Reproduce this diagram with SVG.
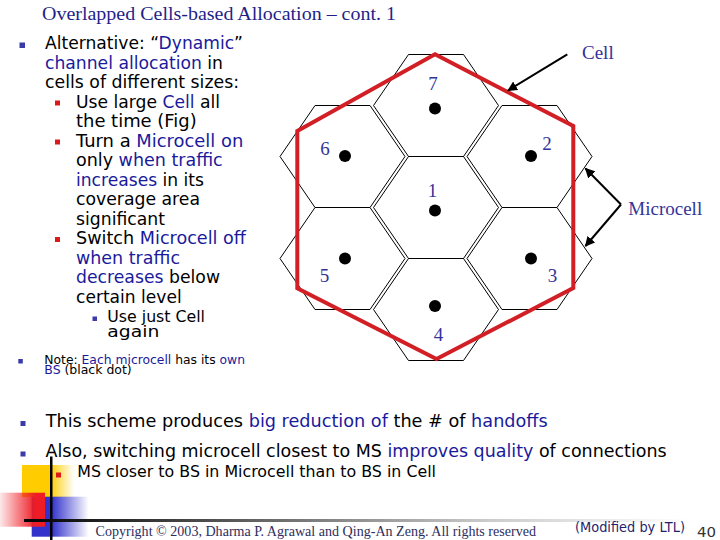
<svg xmlns="http://www.w3.org/2000/svg" width="720" height="540" viewBox="0 0 720 540">
<defs>
<style>
.t{font-family:"DejaVu Sans","Liberation Sans",sans-serif;font-size:17.5px;fill:#000}
.s16{font-size:16px}
.s13{font-size:12px}
.b{fill:#1a1a9c}
.hex{fill:none;stroke:#000;stroke-width:1}
.lab{font-family:"Liberation Serif","Times New Roman",serif;font-size:19px;fill:#333399}
.bb{fill:#3a3aa8}
.rb{fill:#dd1a1a}
.arr{stroke:#000;stroke-width:2;fill:none}
</style>
<marker id="ah" viewBox="0 0 10 10" refX="9" refY="5" markerWidth="5" markerHeight="5" orient="auto" markerUnits="strokeWidth">
<path d="M0,0 L10,5 L0,10 z" fill="#000"/>
</marker>
<linearGradient id="gy" x1="0" y1="0" x2="1" y2="0">
<stop offset="0" stop-color="#ffcc00"/><stop offset="0.54" stop-color="#ffcc00"/><stop offset="1" stop-color="#ffcc00" stop-opacity="0"/>
</linearGradient>
<linearGradient id="gb" x1="0" y1="0" x2="1" y2="0">
<stop offset="0" stop-color="#3333cc"/><stop offset="0.35" stop-color="#3333cc"/><stop offset="1" stop-color="#3333cc" stop-opacity="0"/>
</linearGradient>
<linearGradient id="gr" x1="0" y1="0" x2="1" y2="0">
<stop offset="0" stop-color="#ee1c24" stop-opacity="0.1"/><stop offset="0.8" stop-color="#ee1c24"/><stop offset="1" stop-color="#ee1c24"/>
</linearGradient>
<linearGradient id="gl" x1="0" y1="0" x2="1" y2="0">
<stop offset="0" stop-color="#000"/><stop offset="0.3" stop-color="#555"/><stop offset="0.7" stop-color="#ccc"/><stop offset="1" stop-color="#fff"/>
</linearGradient>
</defs>
<rect width="720" height="540" fill="#fff"/>

<text x="42" y="19.5" font-family="Liberation Serif, Times New Roman, serif" font-size="18" fill="#1f1f8a" textLength="354" lengthAdjust="spacingAndGlyphs">Overlapped Cells-based Allocation – cont. 1</text>

<g id="left-text">
<rect class="bb" x="19.5" y="42.5" width="5.5" height="5.5"/>
<text class="t" x="45" y="49" textLength="198" lengthAdjust="spacingAndGlyphs">Alternative: “<tspan class="b">Dynamic</tspan>”</text>
<text class="t" x="45" y="68.5" textLength="178" lengthAdjust="spacingAndGlyphs"><tspan class="b">channel allocation</tspan> in</text>
<text class="t" x="45" y="88" textLength="194" lengthAdjust="spacingAndGlyphs">cells of different sizes:</text>
<rect class="rb" x="55" y="100.5" width="5" height="5"/>
<text class="t" x="76" y="107.5" textLength="144" lengthAdjust="spacingAndGlyphs">Use large <tspan class="b">Cell</tspan> all</text>
<text class="t" x="76" y="127" textLength="120.7" lengthAdjust="spacingAndGlyphs">the time (Fig)</text>
<rect class="rb" x="55" y="139.5" width="5" height="5"/>
<text class="t" x="76" y="146.5" textLength="167.3" lengthAdjust="spacingAndGlyphs">Turn a <tspan class="b">Microcell on</tspan></text>
<text class="t" x="76" y="166" textLength="146.7" lengthAdjust="spacingAndGlyphs">only <tspan class="b">when traffic</tspan></text>
<text class="t" x="76" y="185.5" textLength="128" lengthAdjust="spacingAndGlyphs"><tspan class="b">increases</tspan> in its</text>
<text class="t" x="76" y="205" textLength="124" lengthAdjust="spacingAndGlyphs">coverage area</text>
<text class="t" x="76" y="224.5" textLength="89" lengthAdjust="spacingAndGlyphs">significant</text>
<rect class="rb" x="55" y="237" width="5" height="5"/>
<text class="t" x="76" y="244" textLength="170" lengthAdjust="spacingAndGlyphs">Switch <tspan class="b">Microcell off</tspan></text>
<text class="t" x="76" y="263.5" textLength="104" lengthAdjust="spacingAndGlyphs"><tspan class="b">when traffic</tspan></text>
<text class="t" x="76" y="283" textLength="144" lengthAdjust="spacingAndGlyphs"><tspan class="b">decreases</tspan> below</text>
<text class="t" x="76" y="302.5" textLength="105.7" lengthAdjust="spacingAndGlyphs">certain level</text>
<rect class="bb" x="92.5" y="316.5" width="4.5" height="4.5"/>
<text class="t s16" x="107.3" y="321.5" textLength="97.7" lengthAdjust="spacingAndGlyphs">Use just Cell</text>
<text class="t s16" x="107.3" y="337" textLength="52" lengthAdjust="spacingAndGlyphs">again</text>
<rect class="bb" x="18.3" y="359" width="4.5" height="4.5"/>
<text class="t s13" x="44.3" y="363.5" textLength="200.7" lengthAdjust="spacingAndGlyphs">Note: <tspan class="b">Each microcell</tspan> has its <tspan class="b">own</tspan></text>
<text class="t s13" x="44.3" y="374" textLength="87.4" lengthAdjust="spacingAndGlyphs"><tspan class="b">BS</tspan> (black dot)</text>
</g>

<g id="bottom-text">
<rect class="bb" x="20.5" y="421" width="5" height="5"/>
<text class="t" x="45.7" y="426.7" textLength="502" lengthAdjust="spacingAndGlyphs">This scheme produces <tspan class="b">big reduction of</tspan> the # of <tspan class="b">handoffs</tspan></text>
<rect class="bb" x="20.5" y="451.5" width="5" height="5"/>
<text class="t" x="45.5" y="457.3" textLength="621.2" lengthAdjust="spacingAndGlyphs">Also, switching microcell closest to MS <tspan class="b">improves quality</tspan> of connections</text>
</g>

<g id="footer-deco">
<rect x="22" y="465" width="52" height="32" fill="url(#gy)"/>
<rect x="31.7" y="496.7" width="57" height="40" fill="url(#gb)"/>
<rect x="0" y="492.7" width="45" height="34" fill="url(#gr)"/>
<rect x="50" y="456.5" width="2.5" height="83.5" fill="#000"/>
<rect x="24" y="519" width="666" height="3" fill="url(#gl)"/>
</g>

<g id="ms-text">
<rect class="rb" x="56" y="472.5" width="5" height="5"/>
<text class="t s16" x="77.3" y="476.7" textLength="358.7" lengthAdjust="spacingAndGlyphs">MS closer to BS in Microcell than to BS in Cell</text>
</g>

<g id="footer-text">
<text x="95.5" y="536" font-family="Liberation Serif, Times New Roman, serif" font-size="15" fill="#2e2e5e" textLength="440.5" lengthAdjust="spacingAndGlyphs">Copyright © 2003, Dharma P. Agrawal and Qing-An Zeng. All rights reserved</text>
<text x="575" y="532" font-family="DejaVu Sans, Liberation Sans, sans-serif" font-size="14" fill="#1f1f6e" textLength="110" lengthAdjust="spacingAndGlyphs">(Modified by LTL)</text>
<text x="697" y="537" font-family="DejaVu Sans, Liberation Sans, sans-serif" font-size="14" fill="#333" textLength="19" lengthAdjust="spacingAndGlyphs">40</text>
</g>

<g id="hex-7"><polygon class="hex" points="408.5,54.5 463.5,54.5 498.5,105.5 463.5,156.5 408.5,156.5 373.5,105.5"/><circle cx="435" cy="108.5" r="6"/><text class="lab" x="433" y="90" text-anchor="middle">7</text></g>
<g id="hex-1"><polygon class="hex" points="408.5,156.5 463.5,156.5 498.5,207.5 463.5,258.5 408.5,258.5 373.5,207.5"/><circle cx="435" cy="210.5" r="6"/><text class="lab" x="432.5" y="197" text-anchor="middle">1</text></g>
<g id="hex-4"><polygon class="hex" points="408.5,258.5 463.5,258.5 498.5,309.5 463.5,360.5 408.5,360.5 373.5,309.5"/><circle cx="435" cy="306" r="6"/><text class="lab" x="438.5" y="341" text-anchor="middle">4</text></g>
<g id="hex-6"><polygon class="hex" points="315,105.5 370,105.5 405,156.5 370,207.5 315,207.5 280,156.5"/><circle cx="345" cy="156" r="6"/><text class="lab" x="325" y="155" text-anchor="middle">6</text></g>
<g id="hex-5"><polygon class="hex" points="315,207.5 370,207.5 405,258.5 370,309.5 315,309.5 280,258.5"/><circle cx="345" cy="258.5" r="6"/><text class="lab" x="324.5" y="281.5" text-anchor="middle">5</text></g>
<g id="hex-2"><polygon class="hex" points="502,105.5 557,105.5 592,156.5 557,207.5 502,207.5 467,156.5"/><circle cx="531" cy="156" r="6"/><text class="lab" x="547" y="150" text-anchor="middle">2</text></g>
<g id="hex-3"><polygon class="hex" points="502,207.5 557,207.5 592,258.5 557,309.5 502,309.5 467,258.5"/><circle cx="531" cy="258.5" r="6"/><text class="lab" x="552.5" y="281.5" text-anchor="middle">3</text></g>

<g id="cell-outline"><polygon points="297.3,131 435,54.3 573.3,126 573.3,288 436.5,359 297.3,288.3" fill="none" stroke="#d21f26" stroke-width="4"/></g>

<g id="label-cell"><text class="lab" x="582" y="59">Cell</text></g>
<g id="label-microcell"><text class="lab" x="628.3" y="215">Microcell</text></g>

<g id="connectors">
<line class="arr" x1="567.3" y1="54.3" x2="508" y2="90.5" marker-end="url(#ah)"/>
<line class="arr" x1="621" y1="204.5" x2="585.5" y2="168.5" marker-end="url(#ah)"/>
<line class="arr" x1="621" y1="204.5" x2="585.5" y2="246" marker-end="url(#ah)"/>
</g>
</svg>
